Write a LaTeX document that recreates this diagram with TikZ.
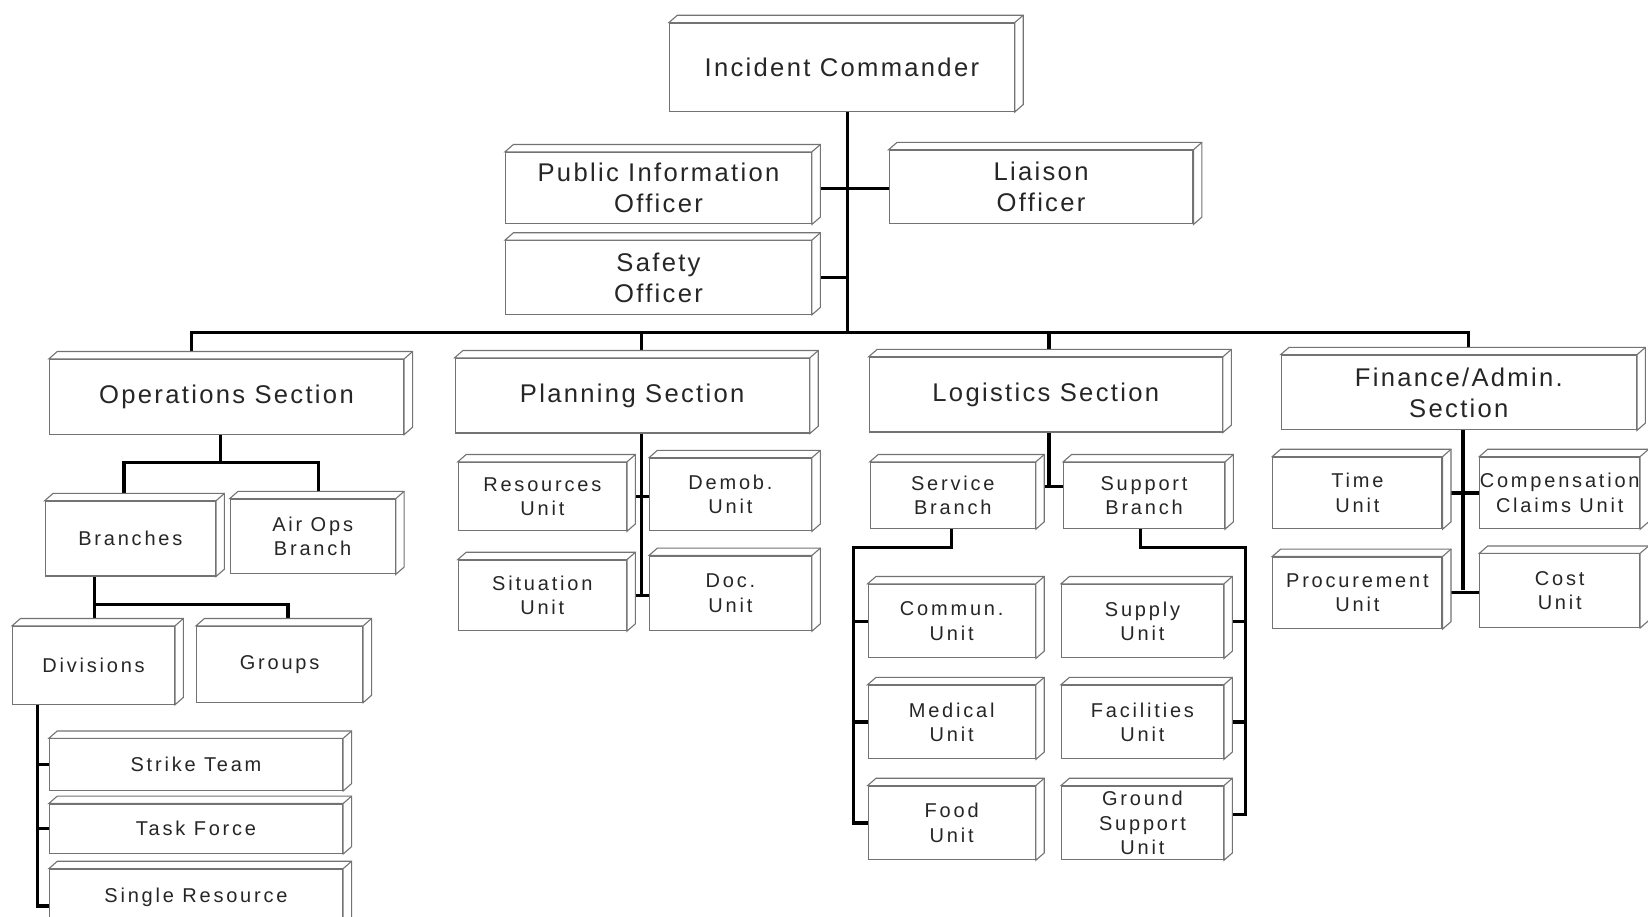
\documentclass[tikz,border=0pt]{standalone}
\usepackage{fontspec}
\setmainfont{Liberation Sans}
\newfontfamily\bigf[LetterSpace=9]{Liberation Sans}
\newfontfamily\smallf[LetterSpace=14]{Liberation Sans}
\usetikzlibrary{backgrounds}
\def\ux{0.5255pt}
\tikzset{
  cubeedge/.style={draw=black!55, line width=0.55pt, fill=white, line join=miter},
  bigbox/.style={draw=black!55, line width=0.55pt, fill=white, inner sep=0pt, align=center,
    text=black!85, font=\bigf\fontsize{12.8}{15.5}\selectfont},
  smallbox/.style={draw=black!55, line width=0.55pt, fill=white, inner sep=0pt, align=center,
    text=black!85, font=\smallf\fontsize{10}{12.2}\selectfont},
  conn/.style={line width=1.6pt, draw=black}
}
\newcommand\cube[7]{%
  \node[#1, minimum width=#5*\ux, minimum height=#6*\ux] (#2) at (#3,#4) {#7};
  \draw[cubeedge] (#2.north west) -- ([shift={(8,-7)}]#2.north west) -- ([shift={(8,-7)}]#2.north east)
     -- ([shift={(8,-7)}]#2.south east) -- (#2.south east) -- (#2.north east) -- cycle;
  \draw[cubeedge] (#2.north east) -- ([shift={(8,-7)}]#2.north east);
}
\begin{document}
\begin{tikzpicture}[x=0.5255pt, y=-0.5255pt]
\useasboundingbox (0,0) rectangle (1568,872);
% top
\cube{bigbox}{ic}{801}{64}{328}{84}{Incident Commander}
\cube{bigbox}{pio}{626.5}{179}{291}{68}{Public Information\\Officer}
\cube{bigbox}{liaison}{990.5}{178}{289}{70}{Liaison\\Officer}
\cube{bigbox}{safety}{626.5}{264}{291}{70}{Safety\\Officer}
% sections
\cube{bigbox}{ops}{215.5}{377.5}{337}{71}{Operations Section}
\cube{bigbox}{plan}{601.5}{376.5}{337}{71}{Planning Section}
\cube{bigbox}{log}{995}{375.5}{336}{71}{Logistics Section}
\cube{bigbox}{fin}{1388}{373.5}{338}{71}{Finance/Admin.\\Section}
% operations
\cube{smallbox}{branches}{124}{512.5}{162}{71}{Branches}
\cube{smallbox}{airops}{297.5}{510.5}{157}{71}{Air Ops\\Branch}
\cube{smallbox}{divisions}{89}{633}{154}{74}{Divisions}
\cube{smallbox}{groups}{266}{632}{158}{72}{Groups}
\cube{smallbox}{strike}{186.5}{727.5}{279}{49}{Strike Team}
\cube{smallbox}{task}{186.5}{788.5}{279}{47}{Task Force}
\cube{smallbox}{single}{186.5}{854}{279}{54}{Single Resource}
% planning
\cube{smallbox}{resources}{516}{472.5}{160}{65}{Resources\\Unit}
\cube{smallbox}{demob}{695}{470.5}{154}{69}{Demob.\\Unit}
\cube{smallbox}{situation}{516}{566.5}{160}{67}{Situation\\Unit}
\cube{smallbox}{doc}{695}{564.5}{154}{71}{Doc.\\Unit}
% logistics
\cube{smallbox}{service}{906.5}{471.5}{157}{63}{Service\\Branch}
\cube{smallbox}{support}{1088.5}{471.5}{153}{63}{Support\\Branch}
\cube{smallbox}{commun}{905.5}{591}{159}{70}{Commun.\\Unit}
\cube{smallbox}{medical}{905.5}{687}{159}{70}{Medical\\Unit}
\cube{smallbox}{food}{905.5}{783}{159}{70}{Food\\Unit}
\cube{smallbox}{supply}{1087}{591}{154}{70}{Supply\\Unit}
\cube{smallbox}{facilities}{1087}{687}{154}{70}{Facilities\\Unit}
\cube{smallbox}{ground}{1087}{783}{154}{70}{Ground\\Support\\Unit}
% finance
\cube{smallbox}{time}{1291.5}{469}{161}{68}{Time\\Unit}
\cube{smallbox}{comp}{1484}{469}{152}{68}{Compensation\\Claims Unit}
\cube{smallbox}{proc}{1291.5}{564}{161}{68}{Procurement\\Unit}
\cube{smallbox}{cost}{1484}{562}{152}{70}{Cost\\Unit}
% connectors
\begin{pgfonlayer}{background}
\fill[white] (0,0) rectangle (1568,872);
\coordinate (trunk) at (806,316);
\coordinate (busA) at (182,316);
\coordinate (busB) at (610,316);
\coordinate (busC) at (998,316);
\coordinate (busD) at (1397,316);
\draw[conn] (trunk |- ic.south) -- (trunk);
\draw[conn] (pio.east) -- (pio.east -| liaison.west);
\draw[conn] (safety.east) -- (safety.east -| trunk);
\draw[conn] (busA |- ops.north) -- (busA) -- (busD) -- (busD |- fin.north);
\draw[conn] (busB) -- (busB |- plan.north);
\draw[conn] (busC) -- (busC |- log.north);
% operations
\coordinate (oj) at (210,440);
\coordinate (o1) at (118,440);
\coordinate (o2) at (303,440);
\draw[conn] (oj |- ops.south) -- (oj);
\draw[conn] (o1 |- branches.north) -- (o1) -- (o2) -- (o2 |- airops.north);
\coordinate (b0) at (90,575);
\coordinate (b1) at (274,575);
\draw[conn] (b0 |- branches.south) -- (b0) -- (b1) -- (b1 |- groups.north);
\draw[conn] (b0) -- (b0 |- divisions.north);
\coordinate (dv) at (36,700);
\coordinate (dend) at (36,862);
\draw[conn] (dv |- divisions.south) -- (dend) -- (dend -| single.west);
\draw[conn] (dv |- strike.west) -- (strike.west);
\draw[conn] (dv |- task.west) -- (task.west);
% planning
\coordinate (pj) at (610,566.5);
\draw[conn] (pj |- plan.south) -- (pj);
\draw[conn] (resources.east) -- (resources.east -| demob.west);
\draw[conn] (situation.east) -- (situation.east -| doc.west);
% logistics
\coordinate (lj) at (998,463);
\draw[conn] (lj |- log.south) -- (lj);
\draw[conn] (lj -| service.east) -- (lj -| support.west);
\coordinate (s1) at (905,521);
\coordinate (s2) at (812,521);
\draw[conn] (s1 |- service.south) -- (s1) -- (s2) -- (s2 |- food.west) -- (food.west);
\draw[conn] (s2 |- commun.west) -- (commun.west);
\draw[conn] (s2 |- medical.west) -- (medical.west);
\coordinate (t1) at (1085,521);
\coordinate (t2) at (1185,521);
\coordinate (tend) at (1185,775);
\draw[conn] (t1 |- support.south) -- (t1) -- (t2) -- (tend) -- (tend -| ground.east);
\draw[conn] (t2 |- supply.east) -- (supply.east);
\draw[conn] (t2 |- facilities.east) -- (facilities.east);
% finance
\coordinate (fj) at (1392,561);
\draw[conn] (fj |- fin.south) -- (fj);
\draw[conn] (time.east) -- (time.east -| comp.west);
\draw[conn] (proc.east) -- (proc.east -| cost.west);
\end{pgfonlayer}
\end{tikzpicture}
\end{document}
